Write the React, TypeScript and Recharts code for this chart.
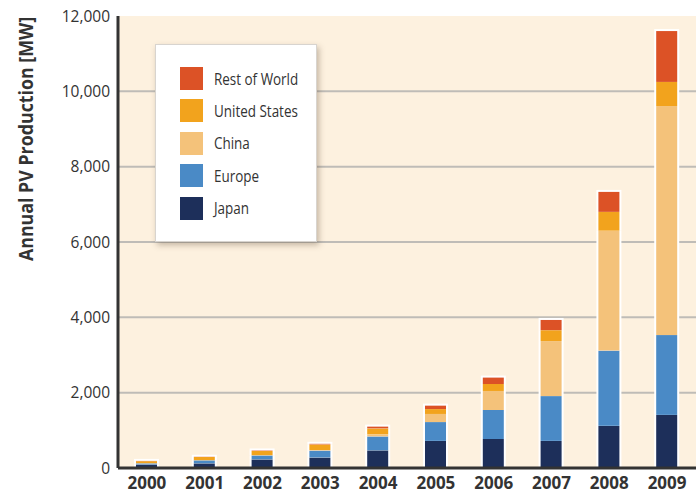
import { Bar, BarChart, CartesianGrid, XAxis, YAxis } from "recharts";

const years = ["2000", "2001", "2002", "2003", "2004", "2005", "2006", "2007", "2008", "2009"];
const japan = [95, 125, 230, 280, 470, 720, 770, 720, 1120, 1410];
const europe = [30, 80, 105, 185, 370, 500, 770, 1190, 2000, 2120];
const china = [3, 3, 5, 12, 53, 215, 505, 1460, 3180, 6080];
const unitedStates = [55, 85, 115, 150, 160, 130, 185, 290, 500, 640];
const restOfWorld = [5, 5, 10, 15, 45, 90, 170, 270, 530, 1350];
const yTicks = [0, 2000, 4000, 6000, 8000, 10000, 12000];
const gridValues = [2000, 4000, 6000, 8000, 10000];

const series = [
  { key: "japan", name: "Japan", color: "#1d2f5a" },
  { key: "europe", name: "Europe", color: "#4a8ac6" },
  { key: "china", name: "China", color: "#f4c27a" },
  { key: "unitedStates", name: "United States", color: "#f2a31d" },
  { key: "restOfWorld", name: "Rest of World", color: "#dc5226" },
];

const data = years.map((year, i) => ({
  year,
  japan: japan[i],
  europe: europe[i],
  china: china[i],
  unitedStates: unitedStates[i],
  restOfWorld: restOfWorld[i],
}));

const font = "'Open Sans', sans-serif";

const makeShape = (isTop: boolean) => (props: any) => {
  const { x, y, width, height, fill } = props;
  if (!height) return <g />;
  return (
    <g>
      <rect x={x - 2} y={isTop ? y - 2 : y} width={width + 4} height={height + (isTop ? 2 : 0)} fill="#fff" />
      <rect x={x} y={y} width={width} height={height} fill={fill} />
    </g>
  );
};

// rotated axis title, squeezed a little to match the condensed original
const YLabel = () => (
  <g transform="translate(33, 139) rotate(-90) scale(0.89, 1)">
    <text x={0} y={0} textAnchor="middle" fill="#333" fontSize={20} fontWeight="bold" fontFamily={font}>
      Annual PV Production [MW]
    </text>
  </g>
);

const LegendBox = () => (
  <div
    style={{
      position: "absolute",
      left: 155,
      top: 44,
      width: 160,
      height: 196,
      background: "#fff",
      border: "1px solid #d8d4cf",
      boxShadow: "2px 3px 6px rgba(90,70,50,0.35)",
      fontFamily: font,
      fontSize: 16,
      color: "#333",
    }}
  >
    {[...series].reverse().map((s, i) => (
      <div
        key={s.key}
        style={{ position: "absolute", left: 24, top: 22 + i * 32.4, height: 23, display: "flex", alignItems: "center" }}
      >
        <div style={{ width: 23, height: 23, background: s.color, flexShrink: 0 }} />
        <span
          style={{
            marginLeft: 11,
            display: "inline-block",
            whiteSpace: "nowrap",
            transform: "scaleX(0.84)",
            transformOrigin: "left center",
          }}
        >
          {s.name}
        </span>
      </div>
    ))}
  </div>
);

export default function App() {
  return (
    <div style={{ position: "absolute", left: 0, top: 0, width: 696, height: 493, background: "#fff" }}>
      <BarChart width={696} height={493} data={data} margin={{ top: 16, right: 0, left: 0, bottom: 0 }} barSize={21}>
        <CartesianGrid
          vertical={false}
          horizontalValues={gridValues}
          fill="#fdf1df"
          fillOpacity={1}
          stroke="#bfbcb7"
          strokeWidth={2}
        />
        <XAxis
          dataKey="year"
          height={25}
          tickLine={false}
          tickMargin={3}
          axisLine={{ stroke: "#333", strokeWidth: 3 }}
          tick={{ fill: "#333", fontSize: 17, fontWeight: "bold", fontFamily: font }}
        />
        <YAxis
          width={118}
          domain={[0, 12000]}
          ticks={yTicks}
          tickLine={false}
          axisLine={{ stroke: "#333", strokeWidth: 3 }}
          tickFormatter={(v: number) => v.toLocaleString("en-US")}
          tick={{ fill: "#333", fontSize: 15.5, fontFamily: font }}
          label={<YLabel />}
        />
        {series.map((s, i) => (
          <Bar
            key={s.key}
            dataKey={s.key}
            name={s.name}
            stackId="pv"
            fill={s.color}
            isAnimationActive={false}
            shape={makeShape(i === series.length - 1)}
          />
        ))}
      </BarChart>
      <LegendBox />
    </div>
  );
}
